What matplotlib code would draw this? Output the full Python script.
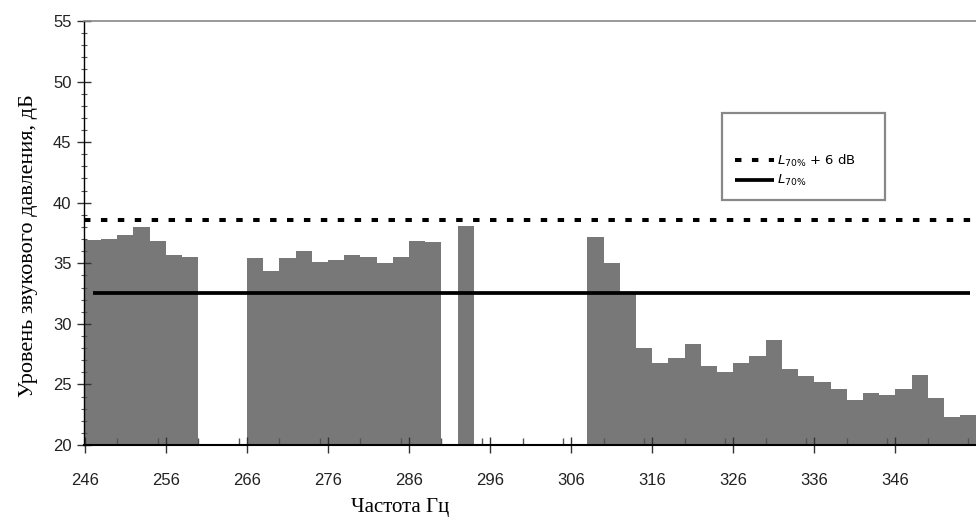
#!/usr/bin/python
# Narrowband spectrum with L70% reference lines
import matplotlib
matplotlib.use('Agg')
import matplotlib.pyplot as plt
from matplotlib.patches import Rectangle
from matplotlib.ticker import MultipleLocator
import numpy as np

# left edge of each 2 Hz band, Hz (missing bands are simply absent)
freq = [246, 248, 250, 252, 254, 256, 258,
        266, 268, 270, 272, 274, 276, 278, 280, 282, 284, 286, 288,
        292,
        308, 310, 312, 314, 316, 318, 320, 322, 324, 326, 328, 330,
        332, 334, 336, 338, 340, 342, 344, 346, 348, 350, 352, 354]
# sound pressure level, dB
level = [36.9, 37.0, 37.3, 38.0, 36.8, 35.7, 35.5,
         35.4, 34.4, 35.4, 36.0, 35.1, 35.3, 35.7, 35.5, 35.05, 35.5, 36.8, 36.75,
         38.1,
         37.2, 35.05, 32.6, 28.0, 26.8, 27.2, 28.3, 26.5, 26.0, 26.8, 27.35, 28.65,
         26.3, 25.7, 25.2, 24.6, 23.7, 24.3, 24.15, 24.6, 25.8, 23.9, 22.35, 22.5]

L70 = 32.55
L70_plus = L70 + 6.0

xticks = np.arange(246, 356, 10)

fig = plt.figure(figsize=(9.76, 5.26), dpi=100)
ax = fig.add_axes([84/976, 1-445/526, 1-84/976, (445-21)/526])

ax.bar(freq, level, width=2, align='edge', color='#787878', linewidth=0, zorder=1)

dash, = ax.plot([245.9, 356], [L70_plus, L70_plus], color='black', lw=2.9,
                linestyle=(0, (1.6, 2.6)), dash_capstyle='butt', zorder=3,
                label=r'$L_{70\%}$ + 6 dB')
solid, = ax.plot([247, 355.2], [L70, L70], color='black', lw=2.7, zorder=3,
                 solid_capstyle='butt', label=r'$L_{70\%}$')

ax.set_xlim(245.9, 355.95)
ax.set_ylim(20, 55)

ax.set_xticks(xticks)
ax.xaxis.set_minor_locator(MultipleLocator(5))
ax.yaxis.set_major_locator(MultipleLocator(5))
ax.yaxis.set_minor_locator(MultipleLocator(1))

ax.tick_params(axis='x', which='major', direction='inout', length=12, width=1,
               color='#333333', pad=14, labelsize=12, labelcolor='#222222')
ax.tick_params(axis='x', which='minor', direction='in', length=5, width=1, color='#555555')
ax.tick_params(axis='y', which='major', direction='inout', length=10, width=1,
               color='#333333', pad=4, labelsize=12, labelcolor='#222222')
ax.tick_params(axis='y', which='minor', direction='inout', length=5, width=0.8, color='#555555')
for lab in ax.get_xticklabels() + ax.get_yticklabels():
    lab.set_family('Liberation Sans')

ax.spines['right'].set_visible(False)
ax.spines['top'].set_color('#888888')
ax.spines['top'].set_linewidth(1.2)
ax.spines['left'].set_linewidth(1.0)
ax.spines['bottom'].set_linewidth(1.5)

ax.set_ylabel('Уровень звукового давления, дБ', family='Liberation Serif',
              fontsize=16, labelpad=8)
ax.set_xlabel('Частота Гц', family='Liberation Serif', fontsize=15, labelpad=10)
ax.xaxis.set_label_coords((400-84)/892, -0.125)
ax.yaxis.set_label_coords(-0.052, 0.47)

# legend frame
ax.add_patch(Rectangle((0.715, 0.578), 0.183, 0.205, transform=ax.transAxes,
                       fill=True, facecolor='white', edgecolor='#888888', lw=1.6,
                       zorder=4, clip_on=False))
leg = ax.legend(handles=[dash, solid], loc='upper left', bbox_to_anchor=(0.722, 0.705),
                frameon=False, fontsize=9.5, handlelength=3.0, handletextpad=0.2,
                labelspacing=0.35, borderpad=0)
leg.set_zorder(5)

fig.savefig('out.png', dpi=100)
